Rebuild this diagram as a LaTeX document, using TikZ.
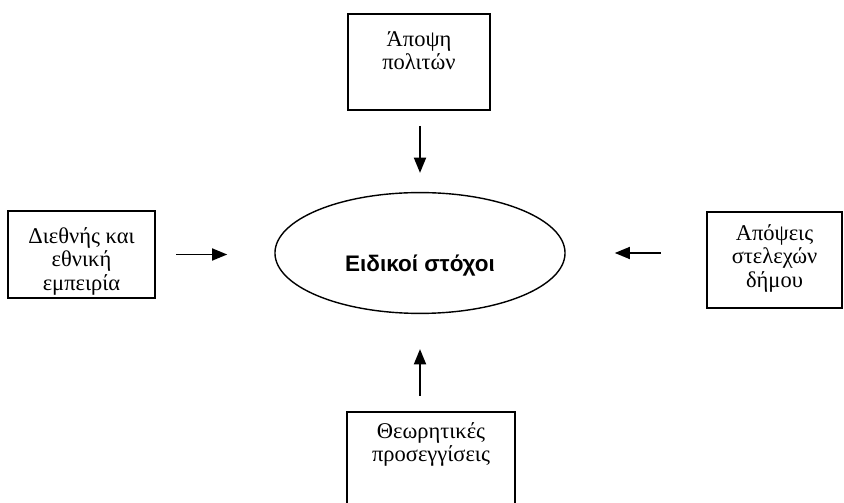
\documentclass[tikz,border=0pt]{standalone}
\usepackage{fontspec}
\setmainfont{Liberation Serif}
\newfontfamily\goalfont{Liberation Sans}
\usetikzlibrary{arrows.meta, positioning, shapes.geometric}

\begin{document}
\begin{tikzpicture}[x=0.025cm, y=-0.025cm, >={Triangle[length=0.38cm, width=0.3cm]},
  srcbox/.style={draw, rectangle, line width=1.4pt, align=center, inner sep=0pt, font=\fontsize{16}{16.5}\selectfont},
  goal/.style={draw, ellipse, line width=1pt, inner sep=0pt, minimum width=7.25cm, minimum height=3.02cm, text height=1cm, text depth=0.05cm, font=\goalfont\bfseries\fontsize{16}{19}\selectfont},
  arr/.style={->, line width=1.3pt}]
\useasboundingbox (0,0) rectangle (844,503);
% Nodes
\node[goal] (goals) at (420,253) {Ειδικοί στόχοι};
\node[srcbox, minimum width=3.55cm, text height=1.4cm, text depth=1cm] (citizens) at (419,62) {Άποψη\\πολιτών};
\node[srcbox, minimum width=3.675cm, text height=1.975cm, text depth=0.2cm] (experience) at (81.5,254.5) {Διεθνής και\\εθνική\\εμπειρία};
\node[srcbox, minimum width=3.375cm, text height=1.875cm, text depth=0.525cm] (staff) at (774.5,260) {Απόψεις\\στελεχών\\δήμου};
\node[srcbox, minimum width=4.2cm, text height=1.25cm, text depth=1.075cm] (theory) at (431,458.5) {Θεωρητικές\\προσεγγίσεις};

% Arrows
\draw[arr, shorten <=0.375cm, shorten >=0.475cm] (citizens.south -| goals) -- (goals.north);
\draw[arr, shorten <=0.5cm, shorten >=1.175cm] (experience.east) -- (experience.east -| goals.west);
\draw[arr, shorten <=1.125cm, shorten >=1.225cm] (staff.west |- goals) -- (goals.east);
\draw[arr, shorten <=0.375cm, shorten >=0.875cm] (theory.north -| goals) -- (goals.south);
\end{tikzpicture}
\end{document}
